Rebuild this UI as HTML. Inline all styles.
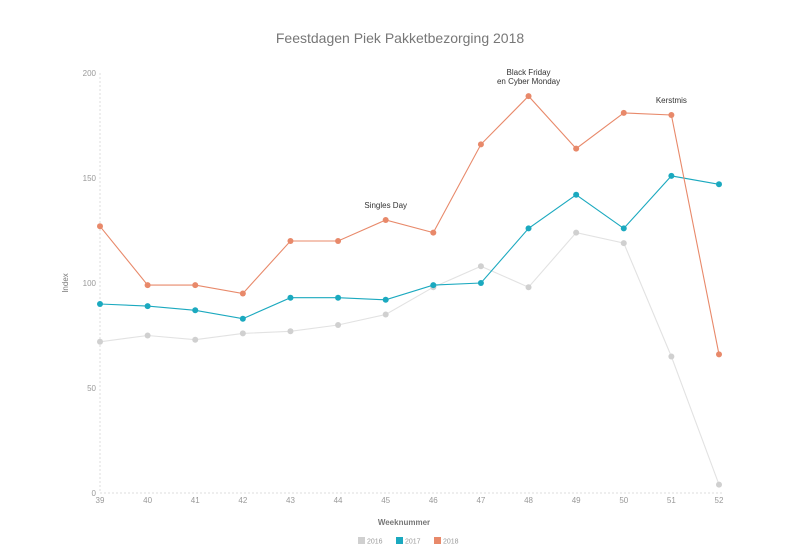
<!DOCTYPE html>
<html><head><meta charset="utf-8"><style>
body{margin:0;background:#fff;font-family:"Liberation Sans",sans-serif}
svg{display:block}
</style></head><body>
<svg id="c" width="800" height="557" xmlns="http://www.w3.org/2000/svg">
<text x="400" y="43" text-anchor="middle" font-size="14" fill="#777">Feestdagen Piek Pakketbezorging 2018</text>
<text x="404" y="525" text-anchor="middle" font-size="8" font-weight="bold" fill="#777">Weeknummer</text>
<text x="68" y="283" text-anchor="middle" font-size="8" fill="#777" transform="rotate(-90 68 283)">Index</text>
<g id="g"></g>
</svg>
<script>
const weeks=[39,40,41,42,43,44,45,46,47,48,49,50,51,52];
const yTicks=[0,50,100,150,200];
const s2016=[72,75,73,76,77,80,85,98,108,98,124,119,65,4];
const s2017=[90,89,87,83,93,93,92,99,100,126,142,126,151,147];
const s2018=[127,99,99,95,120,120,130,124,166,189,164,181,180,66];
const seriesNames=["2016","2017","2018"];
const colors=["#d0d0d0","#1ba9bf","#e8896a"];
const lineColors=["#e2e2e2","#1ba9bf","#e8896a"];
const annotations=[{week:45,value:130,lines:["Singles Day"]},{week:48,value:189,lines:["Black Friday","en Cyber Monday"]},{week:51,value:180,lines:["Kerstmis"]}];
const NS="http://www.w3.org/2000/svg";
const g=document.getElementById('g');
const x=w=>100+(w-39)*(619/13);
const y=v=>493-v*2.1;
function el(t,a){const e=document.createElementNS(NS,t);for(const k in a)e.setAttribute(k,a[k]);g.appendChild(e);return e;}
let e=el('line',{x1:100,x2:100,y1:73,y2:493,stroke:'#ddd','stroke-dasharray':'2,2'});


e=el('line',{x1:100,x2:722,y1:493,y2:493,stroke:'#ddd','stroke-dasharray':'2,2'});


yTicks.forEach(v=>{const t=el('text',{x:96,y:y(v)+3,'text-anchor':'end','font-size':8,fill:'#999'});t.textContent=v;

});
weeks.forEach(w=>{const t=el('text',{x:x(w),y:503,'text-anchor':'middle','font-size':8,fill:'#999'});t.textContent=w;

});
[s2016,s2017,s2018].forEach((s,i)=>{
const p=el('polyline',{points:s.map((v,j)=>x(weeks[j])+','+y(v)).join(' '),fill:'none',stroke:lineColors[i],'stroke-width':1.1});


s.forEach((v,j)=>{const c=el('circle',{cx:x(weeks[j]),cy:y(v),r:3,fill:colors[i]});

});
});
annotations.forEach(a=>{a.lines.forEach((l,k)=>{const t=el('text',{x:x(a.week),y:y(a.value)-12-(a.lines.length-1-k)*9,'text-anchor':'middle','font-size':8,fill:'#333'});t.textContent=l;

});});
const lx=[358,396,434];
seriesNames.forEach((n,i)=>{const r=el('rect',{x:lx[i],y:537,width:7,height:7,fill:colors[i]});


const t=el('text',{x:lx[i]+9,y:543.5,'font-size':7,fill:'#999'});t.textContent=n;

});
</script>
</body></html>
